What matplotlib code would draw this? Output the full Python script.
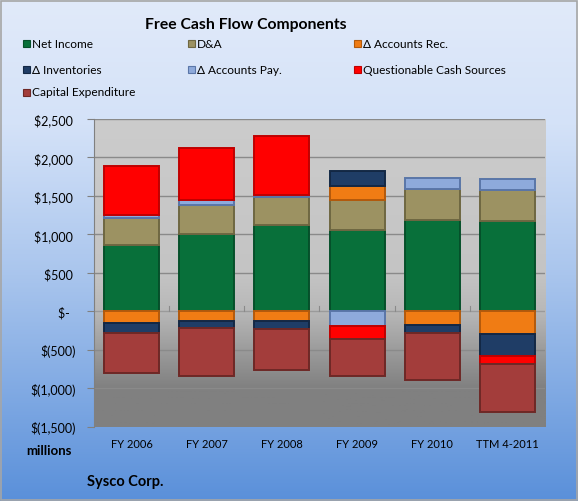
import numpy as np
import matplotlib.pyplot as plt
from matplotlib.colors import LinearSegmentedColormap
from matplotlib.patches import Rectangle

plt.rcParams['font.family'] = ['Lato', 'DejaVu Sans']

categories = ['FY 2006', 'FY 2007', 'FY 2008', 'FY 2009', 'FY 2010', 'TTM 4-2011']
series = ['Net Income', 'D&A', 'Δ Accounts Rec.', 'Δ Inventories',
          'Δ Accounts Pay.', 'Questionable Cash Sources', 'Capital Expenditure']

net_income = [862, 1002, 1116, 1059, 1190, 1168]
dna = [350, 376, 376, 394, 394, 403]
accounts_rec = [-158, -127, -122, 175, -175, -298]
inventories = [-118, -96, -109, 197, -109, -284]
accounts_pay = [44, 70, 18, -197, 153, 144]
questionable = [630, 674, 770, -166, 0, -101]
capex = [-525, -621, -534, -473, -613, -621]

colors = ['#08703a', '#9c9262', '#f07c14', '#1f3d66', '#8eaadb', '#ff0000', '#a33d3b']
edges = ['#05502a', '#6e6742', '#b35a0c', '#132845', '#5a76a8', '#c00000', '#6e2826']

values = [net_income, dna, accounts_rec, inventories, accounts_pay, questionable, capex]

fig = plt.figure(figsize=(5.78, 5.02), dpi=100)

# figure background gradient
bg = fig.add_axes([0, 0, 1, 1], zorder=-10)
bg_cmap = LinearSegmentedColormap.from_list('bg', [(0, '#5a90da'), (0.45, '#a9c5ed'),
                                                   (0.75, '#d4e2f8'), (1, '#e1eafa')])
bg.imshow(np.linspace(0, 1, 256).reshape(-1, 1), cmap=bg_cmap, aspect='auto',
          extent=[0, 1, 0, 1], origin='lower')
bg.add_patch(Rectangle((0.001, 0.001), 0.997, 0.996, fill=False, ec='#a6a6a6', lw=1.2))
bg.set_xlim(0, 1)
bg.set_ylim(0, 1)
bg.axis('off')

ax = fig.add_axes([0.1626, 0.148, 0.7803, 0.613])
x = np.arange(len(categories))
ax.set_xlim(-0.5, len(categories) - 0.5)
ax.set_ylim(-1500, 2500)

# plot area gradient
pa_cmap = LinearSegmentedColormap.from_list('pa', [(0, '#808080'), (0.125, '#808080'),
                                                   (0.375, '#b8b8b8'), (0.5, '#c4c4c4'),
                                                   (1, '#cccccc')])
ax.imshow(np.linspace(0, 1, 256).reshape(-1, 1), cmap=pa_cmap, aspect='auto',
          extent=[-0.5, len(categories) - 0.5, -1500, 2500], origin='lower', zorder=0)

for yv in range(-1000, 2501, 500):
    if yv != 0:
        ax.axhline(yv, color='#8a8a8a', lw=1, zorder=1)
ax.axhline(0, color='#9a9a9a', lw=1, zorder=1)
for xb in np.arange(0.5, len(categories) - 0.5, 1):
    ax.plot([xb, xb], [0, 70], color='#8a8a8a', lw=0.8, zorder=1)

pos_bottom = np.zeros(len(categories))
neg_bottom = np.zeros(len(categories))
for name, vals, c, ec in zip(series, values, colors, edges):
    vals = np.array(vals, dtype=float)
    bottoms = np.where(vals >= 0, pos_bottom, neg_bottom)
    keep = vals != 0
    ax.bar(x[keep], vals[keep], 0.73, bottom=bottoms[keep], color=c, edgecolor=ec,
           linewidth=1.4, zorder=3)
    pos_bottom += np.where(vals > 0, vals, 0)
    neg_bottom += np.where(vals < 0, vals, 0)

ax.set_xticks(x)
ax.set_xticklabels(categories, fontsize=8)
ax.tick_params(axis='x', length=0, pad=8)
yt = [2500, 2000, 1500, 1000, 500, 0, -500, -1000, -1500]
ylab = ['$2,500 ', '$2,000 ', '$1,500 ', '$1,000 ', '$500 ', '$-  ',
        '$(500)', '$(1,000)', '$(1,500)']
ax.set_yticks(yt)
ax.set_yticklabels(ylab, fontsize=9)
ax.tick_params(axis='y', length=5, color='#808080', pad=8)
for s in ['top', 'right', 'bottom']:
    ax.spines[s].set_visible(False)
ax.spines['left'].set_color('#808080')

fig.text(0.426, 0.950, 'Free Cash Flow Components', ha='center', va='center',
         fontsize=11.3, fontweight='bold')

for i, (name, c, ec) in enumerate(zip(series, colors, edges)):
    col, row = i % 3, i // 3
    px = [23, 188, 354][col]
    py = [44, 70, 93][row]
    fig.patches.append(Rectangle((px / 578, 1 - (py + 3.5) / 502), 7 / 578, 7 / 502,
                                 transform=fig.transFigure, fc=c, ec=ec, lw=0.8))
    fig.text((px + 9) / 578, 1 - py / 502, name, ha='left', va='center', fontsize=8.6)

fig.text(49 / 578, 1 - 451 / 502, 'millions', ha='center', va='center',
         fontsize=9.5, fontweight='bold')
fig.text(87 / 578, 1 - 482 / 502, 'Sysco Corp.', ha='left', va='center',
         fontsize=10.5, fontweight='bold')

fig.savefig('out.png', dpi=100)
